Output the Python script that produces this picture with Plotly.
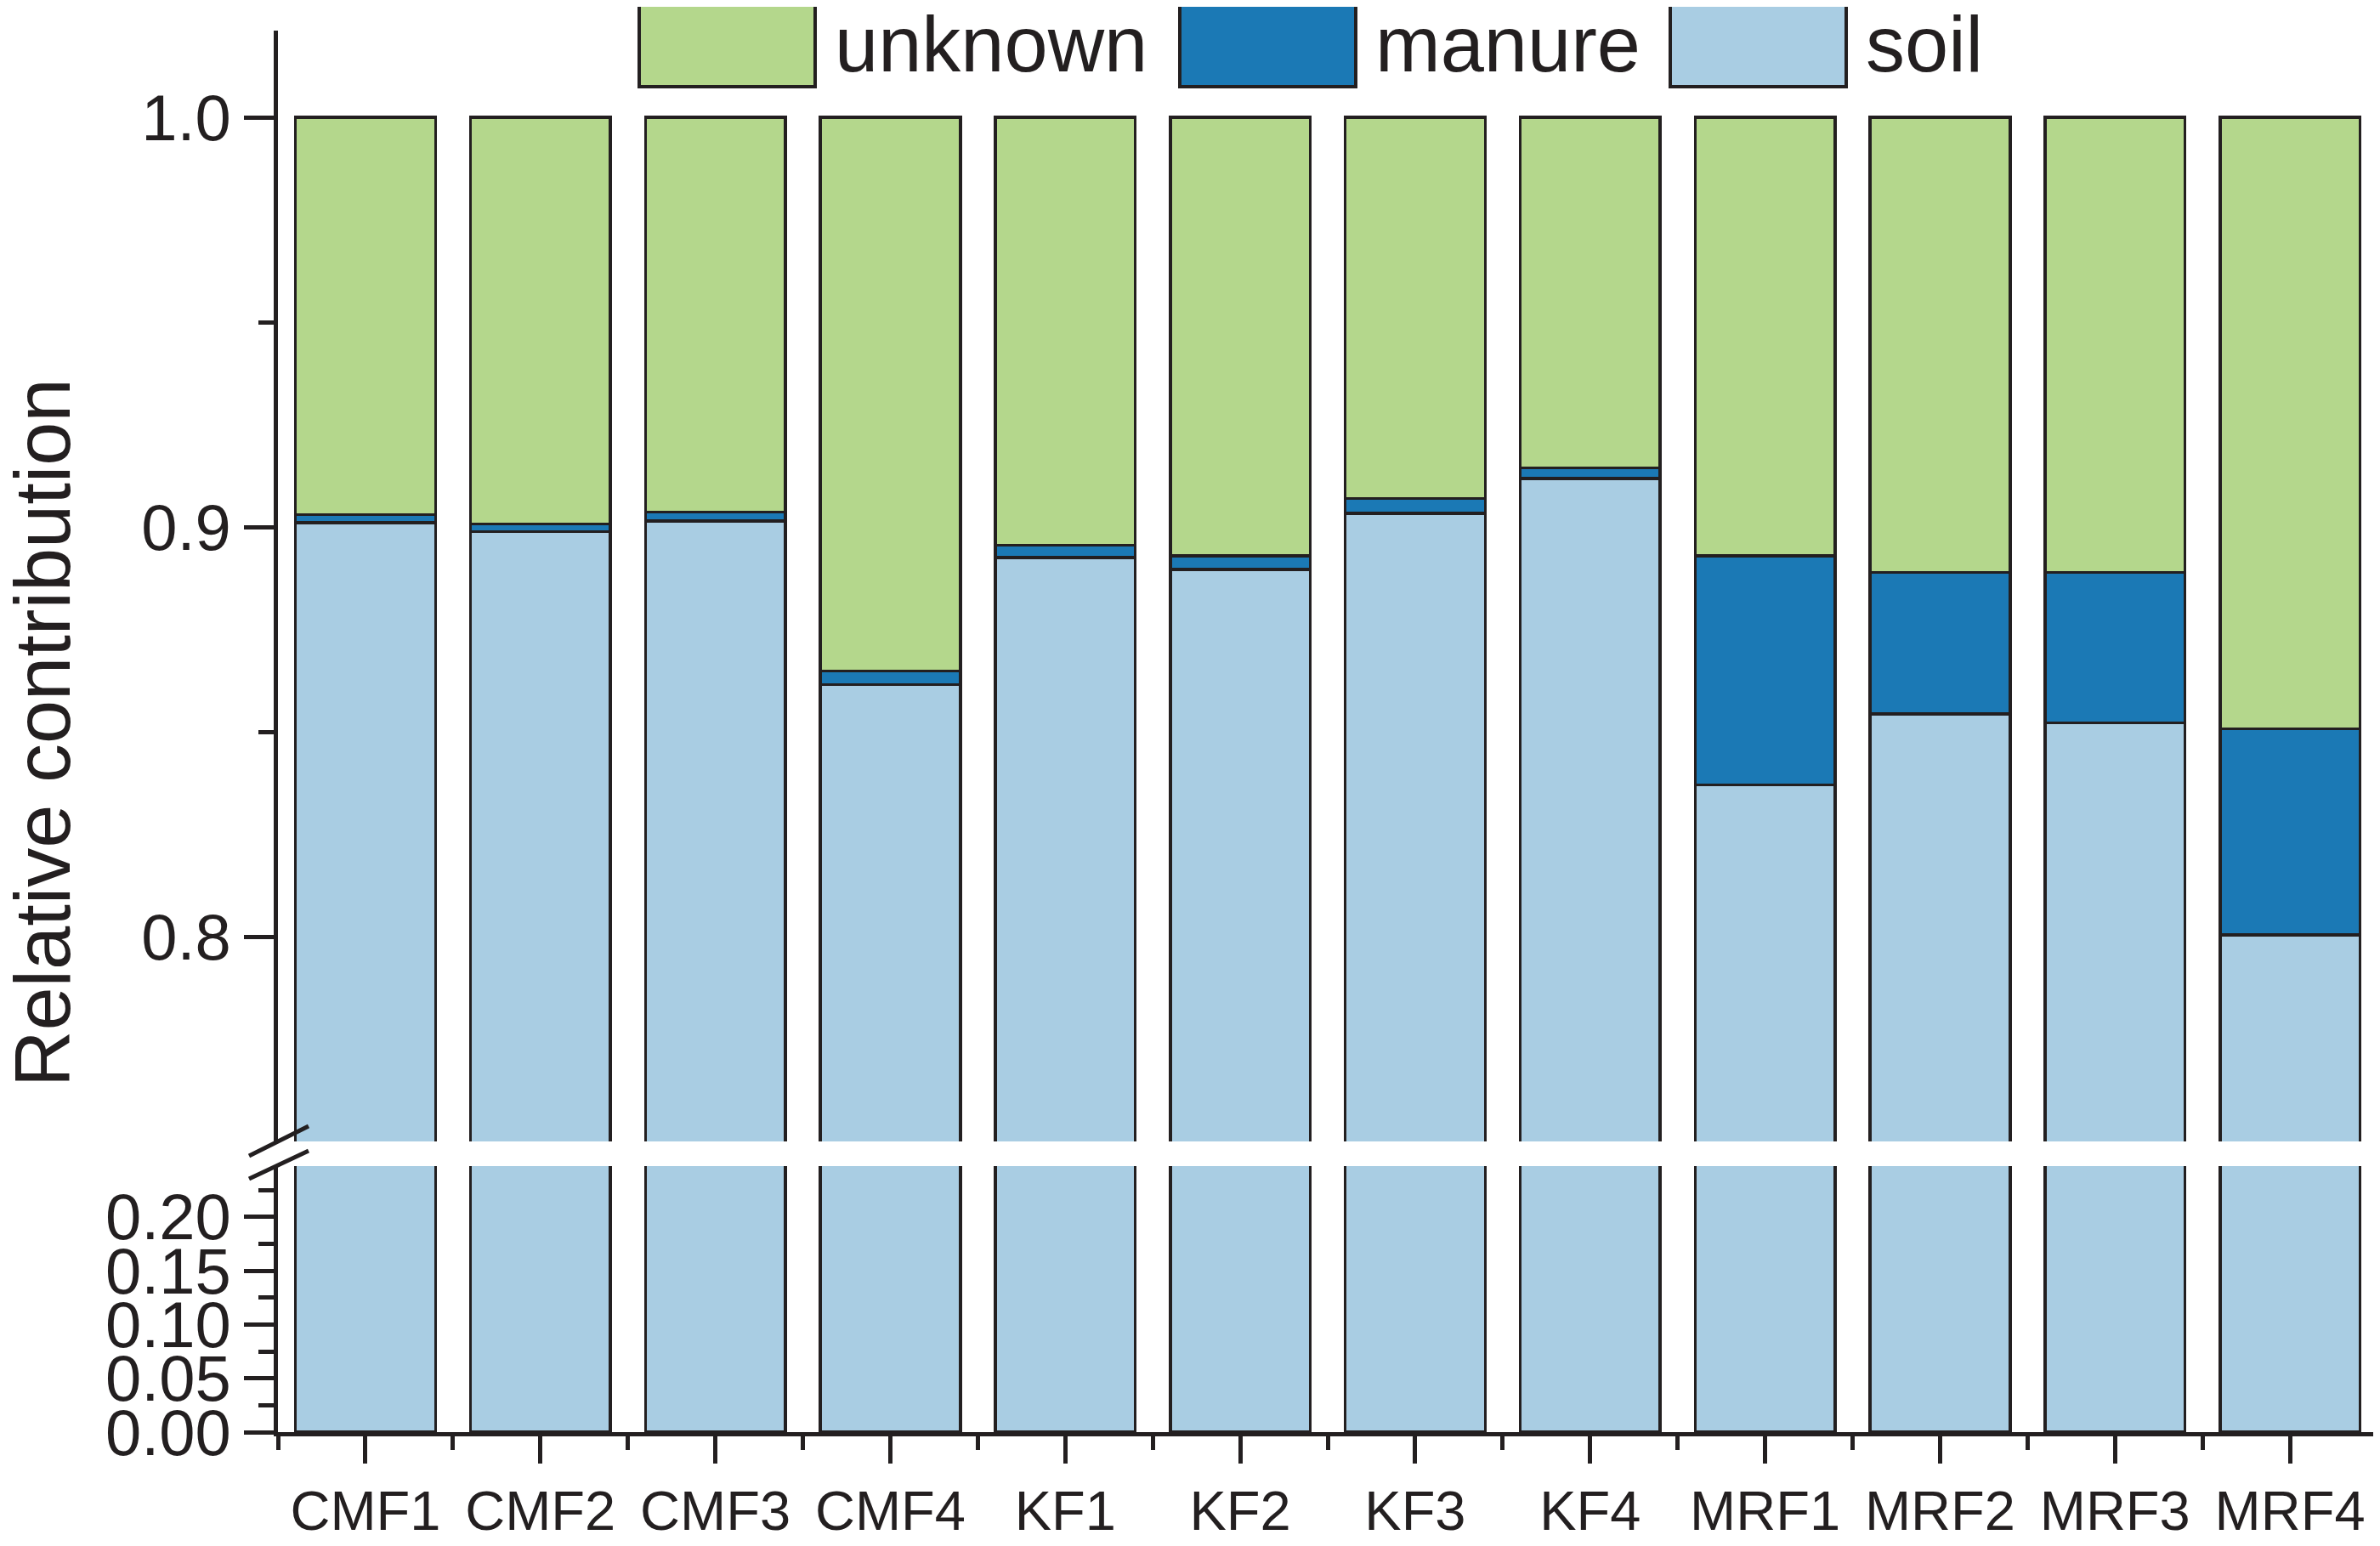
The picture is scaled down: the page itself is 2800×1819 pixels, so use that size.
import plotly.graph_objects as go

categories = ["CMF1", "CMF2", "CMF3", "CMF4", "KF1", "KF2", "KF3", "KF4",
              "MRF1", "MRF2", "MRF3", "MRF4"]
soil = [0.9011, 0.8989, 0.9015, 0.8615, 0.8926, 0.8896, 0.9033, 0.9119,
        0.8370, 0.8544, 0.8522, 0.8004]
manure = [0.0019, 0.0018, 0.0022, 0.0033, 0.0030, 0.0034, 0.0037, 0.0025,
          0.0560, 0.0345, 0.0367, 0.0503]
unknown = [round(1 - s - m, 4) for s, m in zip(soil, manure)]

series_names = ["unknown", "manure", "soil"]
colors = {"soil": "#A9CDE3", "manure": "#1B79B5", "unknown": "#B4D78C"}
series_vals = {"soil": soil, "manure": manure, "unknown": unknown}

upper_ticks = [0.8, 0.9, 1.0]
upper_minor = [0.85, 0.95]
lower_ticks = [0.00, 0.05, 0.10, 0.15, 0.20]
lower_minor = [0.025, 0.075, 0.125, 0.175, 0.225]

# page body has a default 8px margin; lay out in absolute screen pixels
OFF = 8
SCREEN_W, SCREEN_H = 2800, 1819
W, H = SCREEN_W - OFF, SCREEN_H - OFF
PLOT_L, PLOT_R, PLOT_T, PLOT_B = 327, 2797, 30, 1685  # absolute screen px
ML, MR, MT, MB = PLOT_L - OFF, SCREEN_W - PLOT_R, PLOT_T - OFF, SCREEN_H - PLOT_B
PW, PH = PLOT_R - PLOT_L, PLOT_B - PLOT_T


def px(x):
    return (x - PLOT_L) / PW


def py(y):
    return (PLOT_B - y) / PH


xs = list(range(len(categories)))
edge = "#231F20"
fig = go.Figure()
for ax_suffix in ["", "2"]:
    for name in ["soil", "manure", "unknown"]:
        fig.add_trace(go.Bar(
            x=xs, y=series_vals[name], name=name, width=0.8,
            marker=dict(color=colors[name], line=dict(color=edge, width=3.5)),
            xaxis="x" + ax_suffix, yaxis="y" + ax_suffix, showlegend=False,
        ))

font_family = "Liberation Sans, Arial, sans-serif"
tickfont = dict(family=font_family, size=76, color="#231F20")

fig.update_layout(
    width=W, height=H, barmode="stack",
    margin=dict(l=ML, r=MR, t=MT, b=MB),
    paper_bgcolor="white", plot_bgcolor="white",
    xaxis=dict(domain=[0, 1], anchor="y", range=[-0.5, len(categories) - 0.5],
               tickvals=xs, ticktext=categories,
               tickfont=dict(family=font_family, size=65, color="#231F20"),
               ticks="outside", ticklen=32, tickwidth=5, tickcolor=edge,
               showline=True, linewidth=5, linecolor=edge, showgrid=False, zeroline=False,
               minor=dict(tickvals=[i - 0.5 for i in range(len(categories) + 1)],
                          ticks="outside", ticklen=16, tickwidth=5, tickcolor=edge)),
    xaxis2=dict(domain=[0, 1], anchor="y2", matches="x", visible=False),
    yaxis=dict(domain=[0, py(1372)], range=[0, 0.2472],
               tickvals=lower_ticks, tickformat=".2f", tickfont=tickfont,
               ticks="outside", ticklen=35, tickwidth=5, tickcolor=edge,
               showline=True, linewidth=5, linecolor=edge, showgrid=False, zeroline=False,
               minor=dict(tickvals=lower_minor, ticks="outside", ticklen=18,
                          tickwidth=5, tickcolor=edge)),
    yaxis2=dict(domain=[py(1343), py(36)], range=[0.75, 1.0212],
                tickvals=upper_ticks, tickformat=".1f", tickfont=tickfont,
                ticks="outside", ticklen=35, tickwidth=5, tickcolor=edge,
                showline=True, linewidth=5, linecolor=edge, showgrid=False, zeroline=False,
                minor=dict(tickvals=upper_minor, ticks="outside", ticklen=18,
                           tickwidth=5, tickcolor=edge)),
)

# y axis title
fig.add_annotation(text="Relative contribution", xref="paper", yref="paper",
                   x=px(50), y=py(862), textangle=-90, showarrow=False,
                   xanchor="center", yanchor="middle",
                   font=dict(family=font_family, size=92, color="#231F20"))

# axis break marks
for (x0, y0, x1, y1) in [(293, 1360, 363, 1325), (293, 1387, 363, 1354)]:
    fig.add_shape(type="line", xref="paper", yref="paper",
                  x0=px(x0), y0=py(y0), x1=px(x1), y1=py(y1),
                  line=dict(color=edge, width=5))

# legend drawn manually (large swatches)
legend_boxes = {"unknown": 752, "manure": 1388, "soil": 1965}
for name in series_names:
    bx = legend_boxes[name]
    fig.add_shape(type="rect", xref="paper", yref="paper",
                  x0=px(bx), x1=px(bx + 207), y0=py(102), y1=py(5),
                  fillcolor=colors[name], line=dict(color=edge, width=4))
    fig.add_annotation(text=name, xref="paper", yref="paper",
                       x=px(bx + 228), y=py(52), showarrow=False,
                       xanchor="left", yanchor="middle",
                       font=dict(family=font_family, size=92, color="#231F20"))

fig.write_html("out.html")
